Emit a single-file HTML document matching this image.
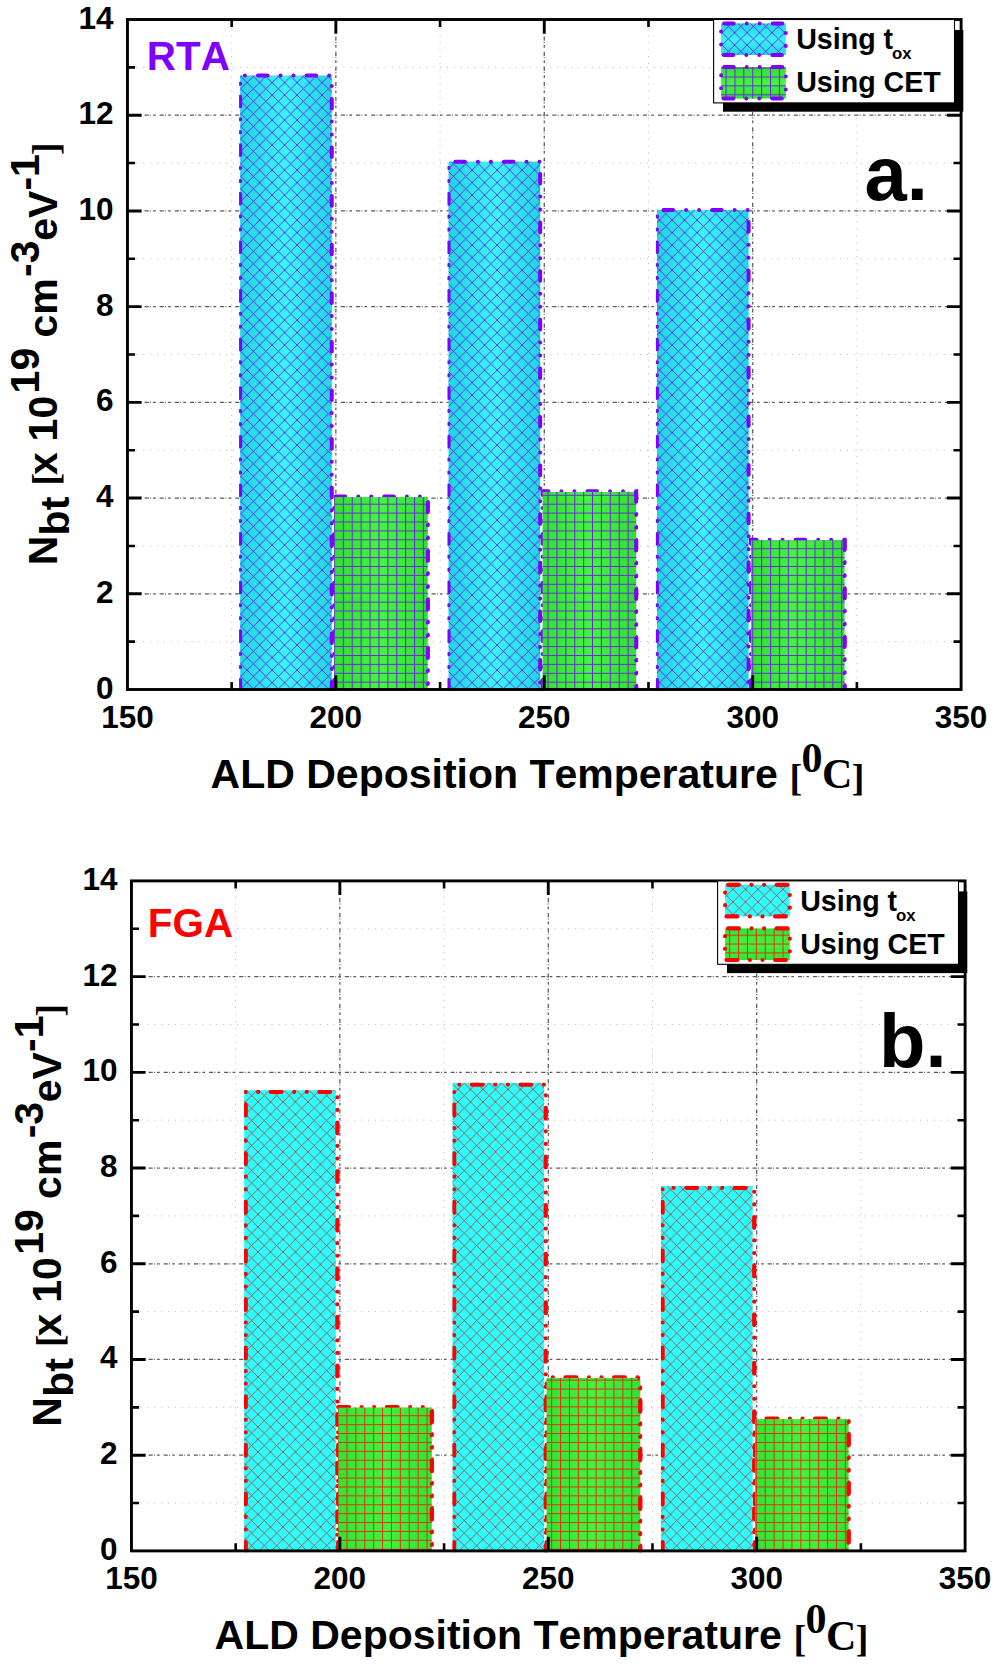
<!DOCTYPE html>
<html lang="en"><head><meta charset="utf-8"><title>N_bt vs ALD deposition temperature</title>
<style>html,body{margin:0;padding:0;background:#fff}body{width:995px;height:1665px;overflow:hidden}svg{display:block}</style>
</head><body>
<svg width="995" height="1665" viewBox="0 0 995 1665">
<rect width="995" height="1665" fill="#fff"/>
<defs>
<linearGradient id="a-g1" x1="0" x2="1" y1="0" y2="0"><stop offset="0" stop-color="#22d4e2"/><stop offset="0.5" stop-color="#3cf4f8"/><stop offset="1" stop-color="#22d4e2"/></linearGradient>
<linearGradient id="a-g2" x1="0" x2="1" y1="0" y2="0"><stop offset="0" stop-color="#30e032"/><stop offset="0.5" stop-color="#42f63c"/><stop offset="1" stop-color="#30e032"/></linearGradient>
<linearGradient id="a-lg1" x1="0" x2="0" y1="0" y2="1"><stop offset="0" stop-color="#22d4e2"/><stop offset="0.5" stop-color="#3cf4f8"/><stop offset="1" stop-color="#22d4e2"/></linearGradient>
<linearGradient id="a-lg2" x1="0" x2="0" y1="0" y2="1"><stop offset="0" stop-color="#30e032"/><stop offset="0.5" stop-color="#42f63c"/><stop offset="1" stop-color="#30e032"/></linearGradient>
<pattern id="a-h1" patternUnits="userSpaceOnUse" x="9.59" y="7.6" width="12.5" height="12.5"><path d="M0 0L12.5 12.5M0 12.5L12.5 0" fill="none" stroke="#6414f4" stroke-width="0.85" stroke-linecap="square"/></pattern>
<pattern id="a-h2" patternUnits="userSpaceOnUse" x="4.6" y="5.3" width="8.9" height="8.9"><path d="M0 0.5H8.9M0.5 0V8.9" fill="none" stroke="#6c2cd8" stroke-width="1.15"/></pattern>
<linearGradient id="b-g1" x1="0" x2="1" y1="0" y2="0"><stop offset="0" stop-color="#2cfcff"/><stop offset="0.5" stop-color="#30ffff"/><stop offset="1" stop-color="#2cfcff"/></linearGradient>
<linearGradient id="b-g2" x1="0" x2="1" y1="0" y2="0"><stop offset="0" stop-color="#30e434"/><stop offset="0.5" stop-color="#40f43c"/><stop offset="1" stop-color="#30e434"/></linearGradient>
<linearGradient id="b-lg1" x1="0" x2="0" y1="0" y2="1"><stop offset="0" stop-color="#2cfcff"/><stop offset="0.5" stop-color="#30ffff"/><stop offset="1" stop-color="#2cfcff"/></linearGradient>
<linearGradient id="b-lg2" x1="0" x2="0" y1="0" y2="1"><stop offset="0" stop-color="#30e434"/><stop offset="0.5" stop-color="#40f43c"/><stop offset="1" stop-color="#30e434"/></linearGradient>
<pattern id="b-h1" patternUnits="userSpaceOnUse" x="3.98" y="2.96" width="12.5" height="12.5"><path d="M0 0L12.5 12.5M0 12.5L12.5 0" fill="none" stroke="#b03828" stroke-width="0.8" stroke-linecap="square"/></pattern>
<pattern id="b-h2" patternUnits="userSpaceOnUse" x="4.26" y="2.05" width="8.9" height="8.9"><path d="M0 0.5H8.9M0.5 0V8.9" fill="none" stroke="#e82810" stroke-width="0.95"/></pattern>
</defs>
<g transform="translate(0,0)">
<g fill="none" stroke="#bdbdbd" stroke-width="1" stroke-dasharray="1.1 5.8">
<path d="M231.66 21.5V687.5"/>
<path d="M440.07 21.5V687.5"/>
<path d="M648.48 21.5V687.5"/>
<path d="M856.89 21.5V687.5"/>
<path d="M129.45 641.64H959.1"/>
<path d="M129.45 545.93H959.1"/>
<path d="M129.45 450.21H959.1"/>
<path d="M129.45 354.5H959.1"/>
<path d="M129.45 258.79H959.1"/>
<path d="M129.45 163.07H959.1"/>
<path d="M129.45 67.36H959.1"/>
</g>
<g fill="none" stroke="#5c5c5c" stroke-width="1.25" stroke-dasharray="4.2 1.3 0.9 2.1 2.7 3.9">
<path d="M335.86 21.5V687.5"/>
<path d="M544.27 21.5V687.5"/>
<path d="M752.69 21.5V687.5"/>
<path d="M129.45 593.79H959.1"/>
<path d="M129.45 498.07H959.1"/>
<path d="M129.45 402.36H959.1"/>
<path d="M129.45 306.64H959.1"/>
<path d="M129.45 210.93H959.1"/>
<path d="M129.45 115.21H959.1"/>
</g>
<clipPath id="a-f"><rect x="127.45" y="19.5" width="833.65" height="671.3"/></clipPath>
<g clip-path="url(#a-f)">
<rect x="240.16" y="75.49" width="91.6" height="614.01" fill="url(#a-g1)"/>
<rect x="240.16" y="75.49" width="91.6" height="614.01" fill="url(#a-h1)"/>
<clipPath id="a-c0"><rect x="239.06" y="69.49" width="103.6" height="626.01"/></clipPath>
<path d="M240.16 689.5V75.49H331.76V689.5" fill="none" stroke="#8000ff" stroke-width="4.0" stroke-linecap="round" stroke-dasharray="9.6 13 0 13 0 13" stroke-dashoffset="0" clip-path="url(#a-c0)"/>
<path d="M334.16 689.5V496.61H427.76V689.5" fill="none" stroke="#8000ff" stroke-width="4.0" stroke-linecap="round" stroke-dasharray="9.6 13 0 13 0 13" stroke-dashoffset="0"/>
<rect x="334.16" y="497.11" width="93.6" height="192.39" fill="url(#a-g2)"/>
<rect x="334.16" y="497.11" width="93.6" height="192.39" fill="url(#a-h2)"/>
<clipPath id="a-d0"><rect x="425.16" y="493.11" width="8" height="200.39"/></clipPath>
<path d="M334.16 689.5V497.11H427.76V689.5" fill="none" stroke="#8000ff" stroke-width="4.0" stroke-linecap="round" stroke-dasharray="9.6 13 0 13 0 13" stroke-dashoffset="0" clip-path="url(#a-d0)"/>
<rect x="448.57" y="161.64" width="91.6" height="527.86" fill="url(#a-g1)"/>
<rect x="448.57" y="161.64" width="91.6" height="527.86" fill="url(#a-h1)"/>
<clipPath id="a-c1"><rect x="447.47" y="155.64" width="103.6" height="539.86"/></clipPath>
<path d="M448.57 689.5V161.64H540.17V689.5" fill="none" stroke="#8000ff" stroke-width="4.0" stroke-linecap="round" stroke-dasharray="9.6 13 0 13 0 13" stroke-dashoffset="0" clip-path="url(#a-c1)"/>
<path d="M542.57 689.5V491.35H636.17V689.5" fill="none" stroke="#8000ff" stroke-width="4.0" stroke-linecap="round" stroke-dasharray="9.6 13 0 13 0 13" stroke-dashoffset="0"/>
<rect x="542.57" y="491.85" width="93.6" height="197.65" fill="url(#a-g2)"/>
<rect x="542.57" y="491.85" width="93.6" height="197.65" fill="url(#a-h2)"/>
<clipPath id="a-d1"><rect x="633.57" y="487.85" width="8" height="205.65"/></clipPath>
<path d="M542.57 689.5V491.85H636.17V689.5" fill="none" stroke="#8000ff" stroke-width="4.0" stroke-linecap="round" stroke-dasharray="9.6 13 0 13 0 13" stroke-dashoffset="0" clip-path="url(#a-d1)"/>
<rect x="656.99" y="209.97" width="91.6" height="479.53" fill="url(#a-g1)"/>
<rect x="656.99" y="209.97" width="91.6" height="479.53" fill="url(#a-h1)"/>
<clipPath id="a-c2"><rect x="655.89" y="203.97" width="103.6" height="491.53"/></clipPath>
<path d="M656.99 689.5V209.97H748.59V689.5" fill="none" stroke="#8000ff" stroke-width="4.0" stroke-linecap="round" stroke-dasharray="9.6 13 0 13 0 13" stroke-dashoffset="0" clip-path="url(#a-c2)"/>
<path d="M750.99 689.5V539.69H844.59V689.5" fill="none" stroke="#8000ff" stroke-width="4.0" stroke-linecap="round" stroke-dasharray="9.6 13 0 13 0 13" stroke-dashoffset="0"/>
<rect x="750.99" y="540.19" width="93.6" height="149.31" fill="url(#a-g2)"/>
<rect x="750.99" y="540.19" width="93.6" height="149.31" fill="url(#a-h2)"/>
<clipPath id="a-d2"><rect x="841.99" y="536.19" width="8" height="157.31"/></clipPath>
<path d="M750.99 689.5V540.19H844.59V689.5" fill="none" stroke="#8000ff" stroke-width="4.0" stroke-linecap="round" stroke-dasharray="9.6 13 0 13 0 13" stroke-dashoffset="0" clip-path="url(#a-d2)"/>
</g>
<g fill="none" stroke="#000" stroke-width="2.9">
<rect x="127.45" y="19.5" width="833.65" height="670"/>
<path d="M335.86 689.5v-14.2M335.86 19.5v14.2M544.27 689.5v-14.2M544.27 19.5v14.2M752.69 689.5v-14.2M752.69 19.5v14.2M127.45 593.79h14.2M961.1 593.79h-14.2M127.45 498.07h14.2M961.1 498.07h-14.2M127.45 402.36h14.2M961.1 402.36h-14.2M127.45 306.64h14.2M961.1 306.64h-14.2M127.45 210.93h14.2M961.1 210.93h-14.2M127.45 115.21h14.2M961.1 115.21h-14.2"/>
<path stroke-width="2.6" d="M231.66 689.5v-7.6M231.66 19.5v7.6M440.07 689.5v-7.6M440.07 19.5v7.6M648.48 689.5v-7.6M648.48 19.5v7.6M856.89 689.5v-7.6M856.89 19.5v7.6M127.45 641.64h7.6M961.1 641.64h-7.6M127.45 545.93h7.6M961.1 545.93h-7.6M127.45 450.21h7.6M961.1 450.21h-7.6M127.45 354.5h7.6M961.1 354.5h-7.6M127.45 258.79h7.6M961.1 258.79h-7.6M127.45 163.07h7.6M961.1 163.07h-7.6M127.45 67.36h7.6M961.1 67.36h-7.6"/>
</g>
<g font-family="'Liberation Sans', Arial, Helvetica, sans-serif" font-weight="bold" font-size="31.5" fill="#000">
<text x="113.5" y="698.5" text-anchor="end">0</text>
<text x="113.5" y="602.79" text-anchor="end">2</text>
<text x="113.5" y="507.07" text-anchor="end">4</text>
<text x="113.5" y="411.36" text-anchor="end">6</text>
<text x="113.5" y="315.64" text-anchor="end">8</text>
<text x="113.5" y="219.93" text-anchor="end">10</text>
<text x="113.5" y="124.21" text-anchor="end">12</text>
<text x="113.5" y="28.5" text-anchor="end">14</text>
<text x="127.45" y="727.9" text-anchor="middle">150</text>
<text x="335.86" y="727.9" text-anchor="middle">200</text>
<text x="544.27" y="727.9" text-anchor="middle">250</text>
<text x="752.69" y="727.9" text-anchor="middle">300</text>
<text x="961.1" y="727.9" text-anchor="middle">350</text>
</g>
<g font-weight="bold" font-size="41" fill="#000" style="font-kerning:none">
<text y="787.8" font-family="'Liberation Sans', Arial, Helvetica, sans-serif"><tspan x="210.6">ALD Deposition Temperature</tspan><tspan x="789.6" dy="3" font-size="38" font-family="'Liberation Serif', 'Times New Roman', Times, serif">[</tspan><tspan x="801.4" dy="-18.7" font-size="42" font-family="'Liberation Serif', 'Times New Roman', Times, serif">0</tspan><tspan x="822" dy="16.3" font-size="42" font-family="'Liberation Serif', 'Times New Roman', Times, serif">C</tspan><tspan x="851.8" dy="2.4" font-size="38" font-family="'Liberation Serif', 'Times New Roman', Times, serif">]</tspan></text>
<g transform="translate(57.4,565.3) rotate(-90)">
<text y="0" font-family="'Liberation Sans', Arial, Helvetica, sans-serif"><tspan x="0">N</tspan><tspan x="29.9" dy="11.7">bt</tspan><tspan x="79.8" dy="-10.4" font-size="38" font-family="'Liberation Serif', 'Times New Roman', Times, serif">[</tspan><tspan x="90.2" dy="-1.3">x</tspan><tspan x="123.9">10</tspan><tspan x="171.9" dy="-18">19</tspan><tspan x="227.8" dy="18">cm</tspan><tspan x="288.4" dy="-18">-3</tspan><tspan x="324.5" dy="18">eV</tspan><tspan x="374.7" dy="-18">-1</tspan><tspan x="410.2" dy="19.3" font-size="38" font-family="'Liberation Serif', 'Times New Roman', Times, serif">]</tspan></text>
</g>
</g>
<text x="146.8" y="69.8" font-family="'Liberation Sans', Arial, Helvetica, sans-serif" font-weight="bold" font-size="40.4" fill="#8000ff" style="font-kerning:none">RTA</text>
<text x="864.6" y="199.7" font-family="'Liberation Sans', Arial, Helvetica, sans-serif" font-weight="bold" font-size="76" fill="#000" style="font-kerning:none">a.</text>
<rect x="723" y="30" width="240.3" height="81.7" fill="#000"/>
<rect x="713.6" y="19.5" width="240.9" height="83.4" fill="#fff" stroke="#000" stroke-width="1.1"/>
<rect x="721.1" y="23.4" width="64.7" height="31.6" fill="url(#a-lg1)"/>
<rect x="721.1" y="23.4" width="64.7" height="31.6" fill="url(#a-h1)"/>
<path d="M721.1 23.4H785.8V55H721.1Z" fill="none" stroke="#8000ff" stroke-width="4" stroke-linecap="round" stroke-dasharray="9.6 13 0 13 0 13" stroke-dashoffset="-3"/>
<rect x="721.1" y="67" width="64.7" height="31.6" fill="url(#a-lg2)"/>
<rect x="721.1" y="67" width="64.7" height="31.6" fill="url(#a-h2)"/>
<path d="M721.1 67H785.8V98.6H721.1Z" fill="none" stroke="#8000ff" stroke-width="4" stroke-linecap="round" stroke-dasharray="9.6 13 0 13 0 13" stroke-dashoffset="-3"/>
<g font-family="'Liberation Sans', Arial, Helvetica, sans-serif" font-weight="bold" font-size="28.6" fill="#000" style="font-kerning:none">
<text x="796.2" y="49.2">Using t<tspan x="892" dy="10" font-size="16.8">ox</tspan></text>
<text x="796.2" y="92.4">Using CET</text>
</g>
</g>
<g transform="translate(4,861.4)">
<g fill="none" stroke="#bdbdbd" stroke-width="1" stroke-dasharray="1.1 5.8">
<path d="M231.66 21.5V687.5"/>
<path d="M440.07 21.5V687.5"/>
<path d="M648.48 21.5V687.5"/>
<path d="M856.89 21.5V687.5"/>
<path d="M129.45 641.64H959.1"/>
<path d="M129.45 545.93H959.1"/>
<path d="M129.45 450.21H959.1"/>
<path d="M129.45 354.5H959.1"/>
<path d="M129.45 258.79H959.1"/>
<path d="M129.45 163.07H959.1"/>
<path d="M129.45 67.36H959.1"/>
</g>
<g fill="none" stroke="#5c5c5c" stroke-width="1.25" stroke-dasharray="4.2 1.3 0.9 2.1 2.7 3.9">
<path d="M335.86 21.5V687.5"/>
<path d="M544.27 21.5V687.5"/>
<path d="M752.69 21.5V687.5"/>
<path d="M129.45 593.79H959.1"/>
<path d="M129.45 498.07H959.1"/>
<path d="M129.45 402.36H959.1"/>
<path d="M129.45 306.64H959.1"/>
<path d="M129.45 210.93H959.1"/>
<path d="M129.45 115.21H959.1"/>
</g>
<clipPath id="b-f"><rect x="127.45" y="19.5" width="833.65" height="671.3"/></clipPath>
<g clip-path="url(#b-f)">
<rect x="240.16" y="228.83" width="91.6" height="460.67" fill="url(#b-g1)"/>
<rect x="240.16" y="228.83" width="91.6" height="460.67" fill="url(#b-h1)"/>
<clipPath id="b-c0"><rect x="239.96" y="228.53" width="103.6" height="472.67"/></clipPath>
<path d="M241.76 689.5V230.53H333.36V689.5" fill="none" stroke="#ff0000" stroke-width="4.2" stroke-linecap="round" stroke-dasharray="10.8 12.6 0 12.6 0 12.6" stroke-dashoffset="2" clip-path="url(#b-c0)"/>
<path d="M334.16 689.5V545.72H427.76V689.5" fill="none" stroke="#ff0000" stroke-width="4.2" stroke-linecap="round" stroke-dasharray="10.8 12.6 0 12.6 0 12.6" stroke-dashoffset="2"/>
<rect x="334.16" y="546.22" width="93.6" height="143.28" fill="url(#b-g2)"/>
<rect x="334.16" y="546.22" width="93.6" height="143.28" fill="url(#b-h2)"/>
<clipPath id="b-d0"><rect x="425.16" y="542.22" width="8" height="151.28"/></clipPath>
<path d="M334.16 689.5V546.22H427.76V689.5" fill="none" stroke="#ff0000" stroke-width="4.2" stroke-linecap="round" stroke-dasharray="10.8 12.6 0 12.6 0 12.6" stroke-dashoffset="2" clip-path="url(#b-d0)"/>
<rect x="448.57" y="221.51" width="91.6" height="467.99" fill="url(#b-g1)"/>
<rect x="448.57" y="221.51" width="91.6" height="467.99" fill="url(#b-h1)"/>
<clipPath id="b-c1"><rect x="448.38" y="221.21" width="103.6" height="479.99"/></clipPath>
<path d="M450.18 689.5V223.21H541.77V689.5" fill="none" stroke="#ff0000" stroke-width="4.2" stroke-linecap="round" stroke-dasharray="10.8 12.6 0 12.6 0 12.6" stroke-dashoffset="2" clip-path="url(#b-c1)"/>
<path d="M542.57 689.5V516H636.17V689.5" fill="none" stroke="#ff0000" stroke-width="4.2" stroke-linecap="round" stroke-dasharray="10.8 12.6 0 12.6 0 12.6" stroke-dashoffset="2"/>
<rect x="542.57" y="516.5" width="93.6" height="173" fill="url(#b-g2)"/>
<rect x="542.57" y="516.5" width="93.6" height="173" fill="url(#b-h2)"/>
<clipPath id="b-d1"><rect x="633.57" y="512.5" width="8" height="181"/></clipPath>
<path d="M542.57 689.5V516.5H636.17V689.5" fill="none" stroke="#ff0000" stroke-width="4.2" stroke-linecap="round" stroke-dasharray="10.8 12.6 0 12.6 0 12.6" stroke-dashoffset="2" clip-path="url(#b-d1)"/>
<rect x="656.99" y="324.69" width="91.6" height="364.81" fill="url(#b-g1)"/>
<rect x="656.99" y="324.69" width="91.6" height="364.81" fill="url(#b-h1)"/>
<clipPath id="b-c2"><rect x="656.79" y="324.38" width="103.6" height="376.81"/></clipPath>
<path d="M658.59 689.5V326.38H750.19V689.5" fill="none" stroke="#ff0000" stroke-width="4.2" stroke-linecap="round" stroke-dasharray="10.8 12.6 0 12.6 0 12.6" stroke-dashoffset="2" clip-path="url(#b-c2)"/>
<path d="M750.99 689.5V557.2H844.59V689.5" fill="none" stroke="#ff0000" stroke-width="4.2" stroke-linecap="round" stroke-dasharray="10.8 12.6 0 12.6 0 12.6" stroke-dashoffset="2"/>
<rect x="750.99" y="557.7" width="93.6" height="131.8" fill="url(#b-g2)"/>
<rect x="750.99" y="557.7" width="93.6" height="131.8" fill="url(#b-h2)"/>
<clipPath id="b-d2"><rect x="841.99" y="553.7" width="8" height="139.8"/></clipPath>
<path d="M750.99 689.5V557.7H844.59V689.5" fill="none" stroke="#ff0000" stroke-width="4.2" stroke-linecap="round" stroke-dasharray="10.8 12.6 0 12.6 0 12.6" stroke-dashoffset="2" clip-path="url(#b-d2)"/>
</g>
<g fill="none" stroke="#000" stroke-width="2.9">
<rect x="127.45" y="19.5" width="833.65" height="670"/>
<path d="M335.86 689.5v-14.2M335.86 19.5v14.2M544.27 689.5v-14.2M544.27 19.5v14.2M752.69 689.5v-14.2M752.69 19.5v14.2M127.45 593.79h14.2M961.1 593.79h-14.2M127.45 498.07h14.2M961.1 498.07h-14.2M127.45 402.36h14.2M961.1 402.36h-14.2M127.45 306.64h14.2M961.1 306.64h-14.2M127.45 210.93h14.2M961.1 210.93h-14.2M127.45 115.21h14.2M961.1 115.21h-14.2"/>
<path stroke-width="2.6" d="M231.66 689.5v-7.6M231.66 19.5v7.6M440.07 689.5v-7.6M440.07 19.5v7.6M648.48 689.5v-7.6M648.48 19.5v7.6M856.89 689.5v-7.6M856.89 19.5v7.6M127.45 641.64h7.6M961.1 641.64h-7.6M127.45 545.93h7.6M961.1 545.93h-7.6M127.45 450.21h7.6M961.1 450.21h-7.6M127.45 354.5h7.6M961.1 354.5h-7.6M127.45 258.79h7.6M961.1 258.79h-7.6M127.45 163.07h7.6M961.1 163.07h-7.6M127.45 67.36h7.6M961.1 67.36h-7.6"/>
</g>
<g font-family="'Liberation Sans', Arial, Helvetica, sans-serif" font-weight="bold" font-size="31.5" fill="#000">
<text x="113.5" y="698.5" text-anchor="end">0</text>
<text x="113.5" y="602.79" text-anchor="end">2</text>
<text x="113.5" y="507.07" text-anchor="end">4</text>
<text x="113.5" y="411.36" text-anchor="end">6</text>
<text x="113.5" y="315.64" text-anchor="end">8</text>
<text x="113.5" y="219.93" text-anchor="end">10</text>
<text x="113.5" y="124.21" text-anchor="end">12</text>
<text x="113.5" y="28.5" text-anchor="end">14</text>
<text x="127.45" y="727.9" text-anchor="middle">150</text>
<text x="335.86" y="727.9" text-anchor="middle">200</text>
<text x="544.27" y="727.9" text-anchor="middle">250</text>
<text x="752.69" y="727.9" text-anchor="middle">300</text>
<text x="961.1" y="727.9" text-anchor="middle">350</text>
</g>
<g font-weight="bold" font-size="41" fill="#000" style="font-kerning:none">
<text y="787.8" font-family="'Liberation Sans', Arial, Helvetica, sans-serif"><tspan x="210.6">ALD Deposition Temperature</tspan><tspan x="789.6" dy="3" font-size="38" font-family="'Liberation Serif', 'Times New Roman', Times, serif">[</tspan><tspan x="801.4" dy="-18.7" font-size="42" font-family="'Liberation Serif', 'Times New Roman', Times, serif">0</tspan><tspan x="822" dy="16.3" font-size="42" font-family="'Liberation Serif', 'Times New Roman', Times, serif">C</tspan><tspan x="851.8" dy="2.4" font-size="38" font-family="'Liberation Serif', 'Times New Roman', Times, serif">]</tspan></text>
<g transform="translate(57.4,565.3) rotate(-90)">
<text y="0" font-family="'Liberation Sans', Arial, Helvetica, sans-serif"><tspan x="0">N</tspan><tspan x="29.9" dy="11.7">bt</tspan><tspan x="79.8" dy="-10.4" font-size="38" font-family="'Liberation Serif', 'Times New Roman', Times, serif">[</tspan><tspan x="90.2" dy="-1.3">x</tspan><tspan x="123.9">10</tspan><tspan x="171.9" dy="-18">19</tspan><tspan x="227.8" dy="18">cm</tspan><tspan x="288.4" dy="-18">-3</tspan><tspan x="324.5" dy="18">eV</tspan><tspan x="374.7" dy="-18">-1</tspan><tspan x="410.2" dy="19.3" font-size="38" font-family="'Liberation Serif', 'Times New Roman', Times, serif">]</tspan></text>
</g>
</g>
<text x="143.8" y="75.2" font-family="'Liberation Sans', Arial, Helvetica, sans-serif" font-weight="bold" font-size="40.4" fill="#ff0000" style="font-kerning:none">FGA</text>
<text x="875" y="205.6" font-family="'Liberation Sans', Arial, Helvetica, sans-serif" font-weight="bold" font-size="76" fill="#000" style="font-kerning:none">b.</text>
<rect x="723" y="30" width="240.3" height="81.7" fill="#000"/>
<rect x="713.6" y="19.5" width="240.9" height="83.4" fill="#fff" stroke="#000" stroke-width="1.1"/>
<rect x="721.1" y="23.4" width="64.7" height="31.6" fill="url(#b-lg1)"/>
<rect x="721.1" y="23.4" width="64.7" height="31.6" fill="url(#b-h1)"/>
<path d="M721.1 23.4H785.8V55H721.1Z" fill="none" stroke="#ff0000" stroke-width="4.2" stroke-linecap="round" stroke-dasharray="10.8 12.6 0 12.6 0 12.6" stroke-dashoffset="-3"/>
<rect x="721.1" y="67" width="64.7" height="31.6" fill="url(#b-lg2)"/>
<rect x="721.1" y="67" width="64.7" height="31.6" fill="url(#b-h2)"/>
<path d="M721.1 67H785.8V98.6H721.1Z" fill="none" stroke="#ff0000" stroke-width="4.2" stroke-linecap="round" stroke-dasharray="10.8 12.6 0 12.6 0 12.6" stroke-dashoffset="-3"/>
<g font-family="'Liberation Sans', Arial, Helvetica, sans-serif" font-weight="bold" font-size="28.6" fill="#000" style="font-kerning:none">
<text x="796.2" y="49.2">Using t<tspan x="892" dy="10" font-size="16.8">ox</tspan></text>
<text x="796.2" y="92.4">Using CET</text>
</g>
</g>
</svg>
</body></html>
